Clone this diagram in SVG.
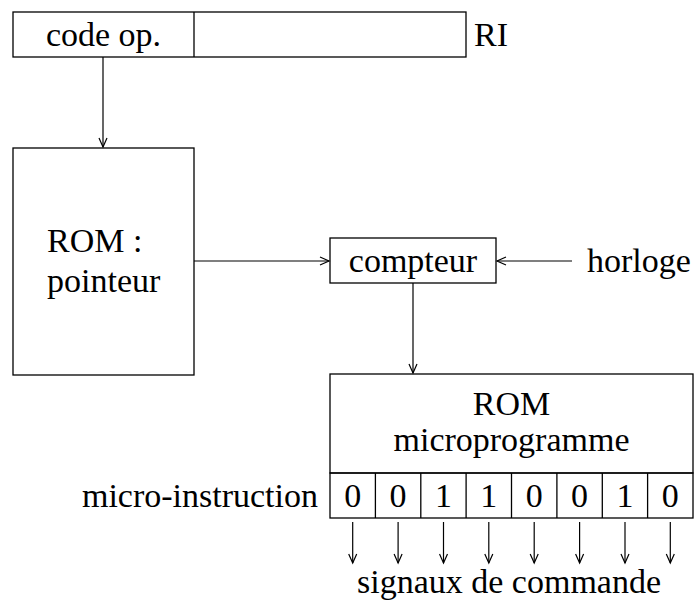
<svg xmlns="http://www.w3.org/2000/svg" width="694" height="603" viewBox="0 0 694 603">
<style>
.b{fill:none;stroke:#000;stroke-width:1.3}
.c{fill:none;stroke:#000;stroke-width:1.2;marker-end:url(#a)}
text{font-family:'Liberation Serif','Times New Roman',serif;font-size:34px;fill:#000}
.m{text-anchor:middle}
</style>
<defs>
<marker id="a" markerWidth="12" markerHeight="10" refX="10" refY="5" orient="auto" markerUnits="userSpaceOnUse">
<path d="M1,1 L10,5 L1,9" fill="none" stroke="#000" stroke-width="1.2"/>
</marker>
</defs>
<g id="ri">
<rect class="b" x="13" y="12" width="453" height="45"/>
<line class="b" x1="194" y1="12" x2="194" y2="57"/>
<text class="m" x="103.5" y="46">code op.</text>
<text x="474" y="46">RI</text>
</g>
<g id="rom-pointeur">
<rect class="b" x="13" y="148" width="181" height="227"/>
<text x="47" y="252">ROM :</text>
<text x="47" y="292">pointeur</text>
</g>
<g id="compteur">
<rect class="b" x="330" y="238" width="166" height="45"/>
<text class="m" x="413" y="272">compteur</text>
</g>
<g id="horloge">
<text x="587" y="272">horloge</text>
</g>
<g id="rom-micro">
<rect class="b" x="330" y="374" width="363" height="99"/>
<text class="m" x="511.5" y="415">ROM</text>
<text class="m" x="511.5" y="451">microprogramme</text>
</g>
<g id="micro-instruction">
<rect class="b" x="330" y="473" width="363" height="45"/>
<line class="b" x1="375.4" y1="473" x2="375.4" y2="518"/>
<line class="b" x1="420.8" y1="473" x2="420.8" y2="518"/>
<line class="b" x1="466.1" y1="473" x2="466.1" y2="518"/>
<line class="b" x1="511.5" y1="473" x2="511.5" y2="518"/>
<line class="b" x1="556.9" y1="473" x2="556.9" y2="518"/>
<line class="b" x1="602.3" y1="473" x2="602.3" y2="518"/>
<line class="b" x1="647.6" y1="473" x2="647.6" y2="518"/>
<text class="m" x="352.7" y="507">0</text>
<text class="m" x="398.1" y="507">0</text>
<text class="m" x="443.5" y="507">1</text>
<text class="m" x="488.8" y="507">1</text>
<text class="m" x="534.2" y="507">0</text>
<text class="m" x="579.6" y="507">0</text>
<text class="m" x="625" y="507">1</text>
<text class="m" x="670.3" y="507">0</text>
<text x="318" y="507" text-anchor="end">micro-instruction</text>
</g>
<g id="signaux">
<text class="m" x="509" y="593">signaux de commande</text>
</g>
<g id="connectors">
<line class="c" x1="103" y1="57" x2="103" y2="147"/>
<line class="c" x1="194" y1="261" x2="329" y2="261"/>
<line class="c" x1="572" y1="261" x2="497" y2="261"/>
<line class="c" x1="413" y1="283" x2="413" y2="373"/>
<line class="c" x1="352.7" y1="522" x2="352.7" y2="563"/>
<line class="c" x1="398.1" y1="522" x2="398.1" y2="563"/>
<line class="c" x1="443.5" y1="522" x2="443.5" y2="563"/>
<line class="c" x1="488.8" y1="522" x2="488.8" y2="563"/>
<line class="c" x1="534.2" y1="522" x2="534.2" y2="563"/>
<line class="c" x1="579.6" y1="522" x2="579.6" y2="563"/>
<line class="c" x1="625" y1="522" x2="625" y2="563"/>
<line class="c" x1="670.3" y1="522" x2="670.3" y2="563"/>
</g>
</svg>
